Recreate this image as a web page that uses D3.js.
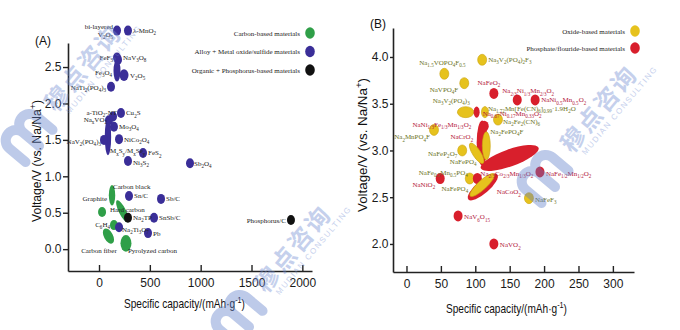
<!DOCTYPE html>
<html>
<head>
<meta charset="utf-8">
<script src="https://cdn.jsdelivr.net/npm/d3@7"></script>
<style>
  body { margin: 0; background: #fff; }
  svg { display: block; }
</style>
</head>
<body>
<svg id="chart"></svg>
<script>
// panel A - anode materials
// "_{..}" = subscript, "^{..}" = superscript, "|" = line break
let aNames = ['bi-layered|V_{2}O_{5}', 'λ-MnO_{2}', 'FeF_{3}', 'NaV_{3}O_{8}', 'Fe_{3}O_{4}', 'V_{2}O_{5}',
  'NaTi_{2}(PO_{4})_{3}', 'a-TiO_{2}-NT', 'Na_{x}VO_{2}', 'Cu_{2}S', 'Mo_{3}O_{4}', 'M_{x}S_{y}/M_{x}Se_{y}',
  'NaV_{2}(PO_{4})_{3}', 'NiCo_{2}O_{4}', 'FeS_{2}', 'Ni_{3}S_{2}', 'Sb_{2}O_{4}', 'Carbon black', 'Sn/C',
  'Sb/C', 'Graphite', 'Hard carbon', 'Na_{2}TP', 'SnSb/C', 'C_{6}H_{4}', 'Na_{2}Ti_{3}O_{7}', 'Pb',
  'Carbon fiber', 'Pyrolyzed carbon', 'Phosphorus/C']
let aCapacity = [177, 285, 177, 187, 177, 246, 118, 138, 98, 216, 147, 88, 49, 197, 433, 285, 895, 128, 295,
  610, 30, 231, 285, 541, 147, 197, 482, 93, 265, 1888]
let aVoltage = [3.00, 3.00, 2.63, 2.60, 2.45, 2.39, 2.23, 1.82, 1.77, 1.87, 1.68, 1.54, 1.50, 1.51, 1.32, 1.21,
  1.18, 0.74, 0.73, 0.69, 0.51, 0.52, 0.43, 0.43, 0.33, 0.30, 0.22, 0.18, 0.08, 0.40]
// half range of the capacity / voltage window (0 = single value)
let aCapRange = [0, 0, 0, 0, 0, 0, 0, 0, 0, 0, 0, 0, 0, 0, 0, 0, 0, 0, 0, 0, 0, 54, 0, 0, 0, 0, 0, 39, 0, 0]
let aVoltRange = [0, 0, 0, 0, 0.15, 0.08, 0, 0, 0, 0, 0, 0.25, 0, 0, 0, 0, 0, 0.14, 0, 0, 0, -0.15, 0, 0, 0,
  0, 0, -0.10, 0.115, 0]
let aGroup = ['alloy', 'alloy', 'alloy', 'alloy', 'alloy', 'alloy', 'alloy', 'alloy', 'alloy', 'alloy', 'alloy',
  'alloy', 'alloy', 'alloy', 'alloy', 'alloy', 'alloy', 'carbon', 'alloy', 'alloy', 'carbon', 'carbon',
  'organic', 'alloy', 'carbon', 'alloy', 'alloy', 'carbon', 'carbon', 'organic']
let aCapTicks = [0, 500, 1000, 1500, 2000]
let aVoltTicks = [0, 0.5, 1.0, 1.5, 2.0, 2.5]
let aLegend = ['Carbon-based materials', 'Alloy + Metal oxide/sulfide materials', 'Organic + Phosphorus-based materials']
let aLegendGroups = ['carbon', 'alloy', 'organic']

// panel B - cathode materials
let bNames = ['NaCrO_{2}', '', 'Na_{3}V_{2}(PO_{4})_{2}F_{3}', 'Na_{1.5}VOPO_{4}F_{0.5}', 'NaVPO_{4}F', 'NaFeO_{2}',
  'Na_{2/3}Ni_{1/3}Mn_{2/3}O_{2}', 'NaNi_{0.5}Mn_{0.5}O_{2}', 'Na_{3}V_{2}(PO_{4})_{3}', 'Na_{0.67}Ni_{0.17}Mn_{0.33}O_{2}',
  'Na_{1.72}Mn[Fe(CN)_{6}]_{0.99}·1.9H_{2}O', 'Na_{2}Fe_{2}(CN)_{6}', 'NaNi_{1/3}Fe_{1/3}Mn_{1/3}O_{2}', 'Na_{2}MnPO_{4}F',
  'Na_{2}FePO_{4}F', 'NaFeP_{2}O_{7}', 'NaFePO_{4}', 'NaFe_{1/2}Mn_{1/2}O_{2}', 'NaFe_{0.5}Mn_{0.5}PO_{4}', 'NaNiO_{2}',
  'Na_{2/3}Co_{2/3}Mn_{1/3}O_{2}', 'NaCoO_{2}', 'NaFePO_{4}', 'NaFeF_{3}', 'NaV_{6}O_{15}', 'NaVO_{2}']
let bCapacity = [110, 150, 110, 55, 84, 127, 161, 187, 86, 102, 114, 133, 113, 40, 116, 81, 102, 194, 92, 49, 103,
  111, 110, 178, 75, 127]
let bVoltage = [3.08, 2.92, 3.97, 3.82, 3.72, 3.61, 3.54, 3.54, 3.41, 3.41, 3.41, 3.33, 3.26, 3.22, 3.05, 3.00, 2.97,
  2.77, 2.70, 2.70, 2.70, 2.61, 2.63, 2.49, 2.30, 2.00]
let bCapRange = [0, 42, 0, 0, 0, 0, 0, 0, 12, 0, 0, 0, 0, 0, 0, 0, 9.4, 0, 0, 0, 0, 21, 17.4, 0, 0, 0]
let bVoltRange = [0.24, 0.11, 0, 0, 0, 0, 0, 0, 0, 0.06, 0.06, 0, 0.05, 0, 0.15, 0, -0.107, 0, 0, 0, 0, 0.134, 0.118,
  0, 0, 0]
let bGroup = ['phos', 'phos', 'oxide', 'oxide', 'oxide', 'phos', 'phos', 'phos', 'oxide', 'phos', 'oxide', 'oxide',
  'phos', 'oxide', 'oxide', 'oxide', 'oxide', 'phos', 'oxide', 'phos', 'phos', 'phos', 'oxide', 'oxide', 'phos', 'phos']
let bCapTicks = [0, 50, 100, 150, 200, 250, 300]
let bVoltTicks = [2.0, 2.5, 3.0, 3.5, 4.0]
let bLegend = ['Oxide-based materials', 'Phosphate/flouride-based materials']
let bLegendGroups = ['oxide', 'phos']

let fill = { carbon: '#2f9f48', alloy: '#3a2e98', organic: '#111111', oxide: '#e6c21d', phos: '#d81f2c' }
let textFill = { carbon: '#222', alloy: '#222', organic: '#222', oxide: '#6c7325', phos: '#b3173a' }

// marker thickness (px) for the wide windows, keyed by index
let aMinor = { 5: 4.5, 11: 3.2, 17: 3.2, 21: 3.6, 27: 4.5, 28: 5.5, 4: 3.5 }
let bMinor = { 0: 5.5, 1: 8.5, 8: 5.5, 9: 3, 10: 3.5, 12: 4.5, 14: 4, 16: 4, 21: 6.5, 22: 4.5 }

// label placement: [anchor, dx, dy] from marker centre
let aLabelPos = [['end', -4, -2], ['start', 5, 2.5], ['end', -4, 2.5], ['start', 5, 0], ['end', -5, 4.5],
  ['start', 6, 2.5], ['end', -5, 3], ['end', 4, -1.5], ['end', -2, 1.5], ['start', 5, 2.5], ['start', 5, 2.5],
  ['start', 2, 16.5], ['end', -3, 4.5], ['start', 5, 2.5], ['start', 5, 2.5], ['start', 5, 3.5], ['start', 4, 2.5],
  ['start', 1, -6.5], ['start', 5, 2.5], ['start', 5, 2.5], ['end', 5, -10.5], ['start', -12.5, 1],
  ['start', 5, 2.5], ['start', 5, 2.5], ['end', -4, 1.5], ['start', 3, 4.5], ['start', 5, 2.5],
  ['middle', -9.5, 16.5], ['start', 2, 9.5], ['end', -5, 2.5]]
let bLabelPos = [['end', -9, -3.5], ['start', 0, 0], ['start', 6, 2.5], ['middle', -2, -8.5], ['end', -6, 8.5],
  ['middle', -5, -8.5], ['start', -15, -6.5], ['start', 6, 2.5], ['end', 4, -9.5], ['start', 6, 3.5],
  ['start', 3, -1.5], ['start', 5, 4.5], ['end', -13, 0.5], ['end', -4, 9.5], ['start', 4, -11.5],
  ['end', -5, 5.5], ['middle', -13.5, 10.5], ['start', 6, 4], ['end', -2, -3.5], ['end', -5, 8.5],
  ['start', 3, -2.5], ['start', 14, 7.5], ['end', -14, 5.5], ['start', 6, 3.5], ['start', 6, 3.5], ['start', 6, 3.5]]

let width = 680
let height = 330

let svg = d3.select('#chart')
            .attr('width', width)
            .attr('height', height)
            .style('font-family', 'Liberation Sans, Arial, sans-serif')

// writes a chemical formula with sub/superscripts into a <text>
let richText = (text, str, size) => {
  let parts = str.split(/([_^]\{[^}]*\})/).filter(s => s.length)
  let shift = 0
  parts.forEach(p => {
    let target = 0
    let fs = size
    let txt = p
    if (p.startsWith('_{')) { target = size * 0.3; fs = size * 0.72; txt = p.slice(2, -1) }
    if (p.startsWith('^{')) { target = -size * 0.42; fs = size * 0.72; txt = p.slice(2, -1) }
    text.append('tspan')
        .attr('dy', target - shift)
        .attr('font-size', fs)
        .text(txt)
    shift = target
  })
}

// watermark: logo + company name, rotated
let drawWatermark = (x, y) => {
  let g = svg.append('g')
             .attr('transform', `translate(${x},${y}) rotate(-50)`)
             .attr('opacity', 0.4)
             .style('pointer-events', 'none')
  g.append('path')
   .attr('d', 'M -21 17 V -4 A 10.5 10.5 0 0 1 0 -4 V 17 M 0 -4 A 10.5 10.5 0 0 1 21 -4 V 17')
   .attr('fill', 'none')
   .attr('stroke', '#5d7cc9')
   .attr('stroke-width', 10)
   .attr('stroke-linecap', 'round')
  g.append('text')
   .attr('x', 36)
   .attr('y', 9)
   .attr('font-family', 'Noto Sans CJK SC')
   .attr('font-weight', 700)
   .attr('font-size', 24)
   .attr('letter-spacing', 2)
   .attr('fill', '#6f8bd2')
   .text('穆点咨询')
  g.append('text')
   .attr('x', 44)
   .attr('y', 20)
   .attr('font-family', 'Liberation Sans')
   .attr('font-size', 8)
   .attr('letter-spacing', 1.6)
   .attr('fill', '#6f8bd2')
   .text('MUDIAN CONSULTING')
}

let drawPanel = (cfg) => {
  let xScale = d3.scaleLinear().domain(cfg.xDomain).range(cfg.xRange)
  let yScale = d3.scaleLinear().domain(cfg.yDomain).range(cfg.yRange)
  let g = svg.append('g')

  // axes
  let xAxis = d3.axisBottom(xScale)
                .tickValues(cfg.xTicks)
                .tickFormat(d3.format('d'))
                .tickSize(-6)
                .tickSizeOuter(0)
                .tickPadding(7)
  let yAxis = d3.axisLeft(yScale)
                .tickValues(cfg.yTicks)
                .tickFormat(d3.format('.1f'))
                .tickSize(cfg.yTickSize)
                .tickSizeOuter(0)
                .tickPadding(1.5)

  let gx = g.append('g')
            .attr('transform', 'translate(0, ' + cfg.yRange[0] + ')')
            .call(xAxis)
  let gy = g.append('g')
            .attr('transform', 'translate(' + cfg.xRange[0] + ', 0)')
            .call(yAxis)
  ;[gx, gy].forEach(a => {
    a.select('.domain').attr('stroke', '#222').attr('stroke-width', 1.6)
    a.selectAll('.tick line').attr('stroke', '#222').attr('stroke-width', 1.4)
    a.selectAll('.tick text')
     .attr('font-family', 'Liberation Sans, Arial, sans-serif')
     .attr('font-size', 12)
     .attr('fill', '#1a1a1a')
  })

  // axis titles
  let xt = g.append('text')
            .attr('x', cfg.xTitle[0])
            .attr('y', cfg.xTitle[1])
            .attr('text-anchor', 'middle')
            .attr('font-size', 13)
            .attr('fill', '#111')
            .attr('textLength', 121)
            .attr('lengthAdjust', 'spacingAndGlyphs')
  richText(xt, 'Specific capacity/(mAh·g^{-1})', 13)

  let yt = g.append('text')
            .attr('transform', `translate(${cfg.yTitle[0]},${cfg.yTitle[1]}) rotate(-90)`)
            .attr('text-anchor', 'middle')
            .attr('font-size', 13)
            .attr('fill', '#111')
            .attr('textLength', cfg.yTitle[2])
            .attr('lengthAdjust', 'spacingAndGlyphs')
  richText(yt, 'Voltage/V (vs. Na/Na^{+})', 13)

  g.append('text')
   .attr('x', cfg.tag[0])
   .attr('y', cfg.tag[1])
   .attr('font-size', 12)
   .attr('fill', '#111')
   .text(cfg.tag[2])

  // markers
  let idx = d3.range(cfg.names.length)
  g.selectAll('ellipse.mark')
   .data(idx)
   .enter()
   .append('ellipse')
   .attr('class', 'mark')
   .attr('transform', (i) => {
      let cx = xScale(cfg.cap[i])
      let cy = yScale(cfg.volt[i])
      let dx = xScale(cfg.cap[i] + cfg.capRange[i]) - cx
      let dy = yScale(cfg.volt[i] + cfg.voltRange[i]) - cy
      let ang = (dx === 0 && dy === 0) ? 0 : Math.atan2(dy, dx) * 180 / Math.PI
      return `translate(${cx},${cy}) rotate(${ang})`
   })
   .attr('rx', (i) => {
      let dx = xScale(cfg.cap[i] + cfg.capRange[i]) - xScale(cfg.cap[i])
      let dy = yScale(cfg.volt[i] + cfg.voltRange[i]) - yScale(cfg.volt[i])
      let len = Math.hypot(dx, dy)
      return len > 0 ? Math.max(len, cfg.dotR[1]) : cfg.dotR[0]
   })
   .attr('ry', (i) => {
      let hasRange = cfg.capRange[i] !== 0 || cfg.voltRange[i] !== 0
      if (cfg.minor[i] !== undefined) return cfg.minor[i]
      return hasRange ? cfg.dotR[0] : cfg.dotR[1]
   })
   .attr('fill', (i) => fill[cfg.group[i]])
   .attr('stroke', (i) => cfg.group[i] === 'oxide' ? '#c9a20e' : 'none')
   .attr('stroke-width', 0.6)

  // point labels
  idx.forEach(i => {
    if (!cfg.names[i]) return
    let pos = cfg.labelPos[i]
    let x = xScale(cfg.cap[i]) + pos[1]
    let y = yScale(cfg.volt[i]) + pos[2]
    cfg.names[i].split('|').forEach((line, k) => {
      let t = g.append('text')
               .attr('x', x)
               .attr('y', y + k * 8)
               .attr('text-anchor', pos[0])
               .attr('font-family', 'Liberation Serif, Times New Roman, serif')
               .attr('font-size', 7)
               .attr('fill', textFill[cfg.group[i]])
      richText(t, line, 7)
    })
  })

  // legend
  cfg.legend.forEach((name, k) => {
    let y = cfg.legendPos[1] + k * cfg.legendPos[2]
    g.append('text')
     .attr('x', cfg.legendPos[0] - 10)
     .attr('y', y + 2.5)
     .attr('text-anchor', 'end')
     .attr('font-family', 'Liberation Serif, Times New Roman, serif')
     .attr('font-size', 7)
     .attr('fill', '#222')
     .text(name)
    g.append('ellipse')
     .attr('cx', cfg.legendPos[0])
     .attr('cy', y)
     .attr('rx', 4.8)
     .attr('ry', 5.8)
     .attr('fill', fill[cfg.legendGroups[k]])
  })
}

drawPanel({
  names: aNames, cap: aCapacity, volt: aVoltage, group: aGroup,
  capRange: aCapRange, voltRange: aVoltRange, minor: aMinor, labelPos: aLabelPos,
  xDomain: [-305, 2095], xRange: [68, 312], yDomain: [-0.30, 2.83], yRange: [271, 43],
  xTicks: aCapTicks, yTicks: aVoltTicks, yTickSize: 5,
  xTitle: [184.5, 308], yTitle: [41, 161, 122], tag: [35, 45, '(A)'],
  dotR: [4, 5],
  legend: aLegend, legendGroups: aLegendGroups, legendPos: [310, 33, 18.5]
})

drawPanel({
  names: bNames, cap: bCapacity, volt: bVoltage, group: bGroup,
  capRange: bCapRange, voltRange: bVoltRange, minor: bMinor, labelPos: bLabelPos,
  xDomain: [-19.6, 330.7], xRange: [393, 634], yDomain: [1.70, 4.31], yRange: [272, 28],
  xTicks: bCapTicks, yTicks: bVoltTicks, yTickSize: 3,
  xTitle: [506.5, 313], yTitle: [367, 145, 134], tag: [370, 28, '(B)'],
  dotR: [4.5, 5.5],
  legend: bLegend, legendGroups: bLegendGroups, legendPos: [635, 31, 17]
})

drawWatermark(26, 135)
drawWatermark(236, 316)
drawWatermark(542, 176)
</script>
</body>
</html>
